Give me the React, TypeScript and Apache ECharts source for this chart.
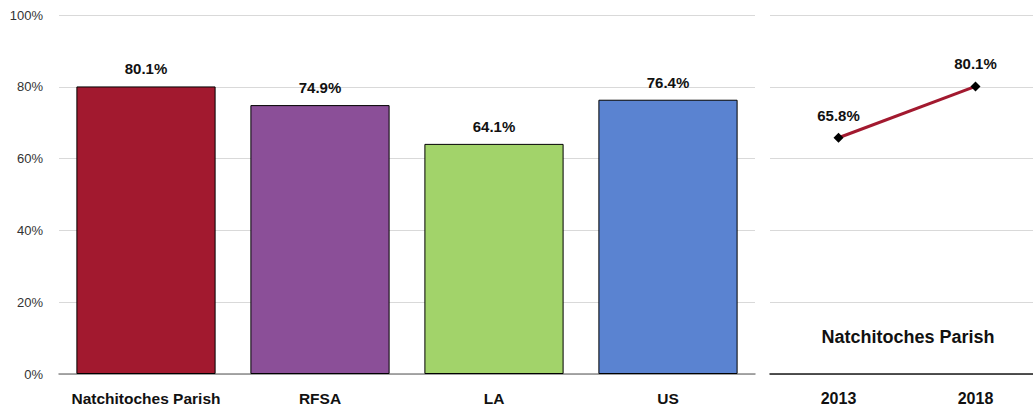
import React, { useEffect, useRef } from "react";
import * as echarts from "echarts";

const categories = ["Natchitoches Parish", "RFSA", "LA", "US"];
const barValues = [80.1, 74.9, 64.1, 76.4];
const barColors = ["#A2192F", "#8B4F98", "#A2D36A", "#5A83D1"];
const years = ["2013", "2018"];
const trendValues = [65.8, 80.1];
const trendTitle = "Natchitoches Parish";

const FONT = "'Liberation Sans', Arial, sans-serif";

export default function App() {
  const ref = useRef<HTMLDivElement>(null);
  useEffect(() => {
    if (!ref.current) return;
    const chart = echarts.init(ref.current, undefined, { renderer: "svg" });
    const yAxisBase = {
      type: "value",
      min: 0,
      max: 100,
      interval: 20,
      axisLine: { show: false },
      axisTick: { show: false },
      splitLine: { lineStyle: { color: "#D9D9D9", width: 1 } },
    };
    chart.setOption({
      animation: false,
      backgroundColor: "#FFFFFF",
      textStyle: { fontFamily: FONT },
      grid: [
        { left: 59, top: 15, width: 696, height: 359 },
        { left: 770, top: 15, width: 274, height: 359 },
      ],
      xAxis: [
        {
          type: "category",
          gridIndex: 0,
          data: categories,
          axisLine: { lineStyle: { color: "#8C8C8C", width: 1.5 } },
          axisTick: { show: false },
          axisLabel: {
            interval: 0,
            color: "#111",
            fontFamily: FONT,
            fontWeight: "bold",
            fontSize: 15.5,
            margin: 16,
          },
        },
        {
          type: "category",
          gridIndex: 1,
          data: years,
          axisLine: { lineStyle: { color: "#1A1A1A", width: 1.5 } },
          axisTick: { show: false },
          axisLabel: {
            interval: 0,
            color: "#111",
            fontFamily: FONT,
            fontWeight: "bold",
            fontSize: 16,
            margin: 16,
          },
        },
      ],
      yAxis: [
        {
          ...yAxisBase,
          gridIndex: 0,
          axisLabel: {
            formatter: "{value}%",
            color: "#333",
            fontFamily: FONT,
            fontSize: 13,
            margin: 16,
          },
        },
        {
          ...yAxisBase,
          gridIndex: 1,
          axisLabel: { show: false },
        },
      ],
      series: [
        {
          type: "bar",
          xAxisIndex: 0,
          yAxisIndex: 0,
          barWidth: "80%",
          data: barValues.map((v, i) => ({
            value: v,
            itemStyle: { color: barColors[i], borderColor: "#000", borderWidth: 1 },
          })),
          label: {
            show: true,
            position: "top",
            distance: 10,
            formatter: (p: any) => `${p.value.toFixed(1)}%`,
            color: "#111",
            fontFamily: FONT,
            fontWeight: "bold",
            fontSize: 15,
          },
        },
        {
          type: "line",
          xAxisIndex: 1,
          yAxisIndex: 1,
          data: trendValues,
          lineStyle: { color: "#A2192F", width: 3 },
          symbol: "diamond",
          symbolSize: 10,
          itemStyle: { color: "#000" },
          label: {
            show: true,
            position: "top",
            distance: 10,
            formatter: (p: any) => `${p.value.toFixed(1)}%`,
            color: "#111",
            fontFamily: FONT,
            fontWeight: "bold",
            fontSize: 15,
          },
        },
      ],
      graphic: [
        {
          type: "text",
          x: 908,
          y: 337,
          style: {
            text: trendTitle,
            fill: "#111",
            font: `bold 18px ${FONT}`,
            align: "center",
            verticalAlign: "middle",
          },
        },
      ],
    });
    return () => chart.dispose();
  }, []);
  return (
    <div
      style={{
        position: "absolute",
        left: 0,
        top: 0,
        width: 1033,
        height: 409,
        overflow: "hidden",
        background: "#fff",
      }}
    >
      <div ref={ref} style={{ width: 1050, height: 409 }} />
    </div>
  );
}
